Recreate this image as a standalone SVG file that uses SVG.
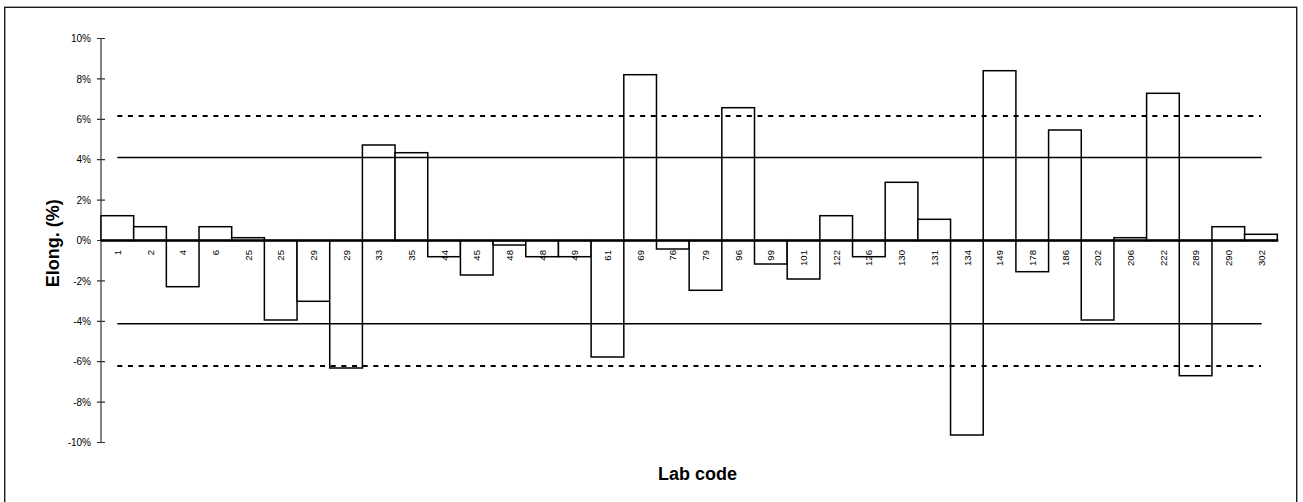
<svg xmlns="http://www.w3.org/2000/svg" width="1303" height="502" viewBox="0 0 1303 502">
<style>
.frame{fill:#fff;stroke:#1a1a1a;stroke-width:1.4}
.bar rect{fill:#fff;stroke:#000;stroke-width:1.5}
.bar text{font-family:"Liberation Sans",Arial,sans-serif;font-size:9.6px;fill:#000;text-anchor:end}
.tick{font-family:"Liberation Sans",Arial,sans-serif;font-size:10px;fill:#000;text-anchor:end}
.title{font-family:"Liberation Sans",Arial,sans-serif;font-size:18px;font-weight:bold;fill:#000;text-anchor:middle}
.axis{stroke:#333;stroke-width:1.2;fill:none}
.lim{stroke:#000;stroke-width:1.4;fill:none}
.dash{stroke:#000;stroke-width:2;fill:none;stroke-dasharray:5 5.67}
.zero{stroke:#000;stroke-width:2.6;fill:none}
</style>
<rect class="frame" x="4.7" y="7.3" width="1292" height="500"/>
<g id="y-axis">
<line class="axis" x1="101" y1="38.5" x2="101" y2="442.5"/>
<path class="axis" d="M97 38.5H105M97 78.9H105M97 119.3H105M97 159.7H105M97 200.1H105M97 240.5H105M97 280.9H105M97 321.3H105M97 361.7H105M97 402.1H105M97 442.5H105"/>
<text class="tick" x="91" y="42.2">10%</text>
<text class="tick" x="91" y="82.6">8%</text>
<text class="tick" x="91" y="123">6%</text>
<text class="tick" x="91" y="163.4">4%</text>
<text class="tick" x="91" y="203.8">2%</text>
<text class="tick" x="91" y="244.2">0%</text>
<text class="tick" x="91" y="284.6">-2%</text>
<text class="tick" x="91" y="325">-4%</text>
<text class="tick" x="91" y="365.4">-6%</text>
<text class="tick" x="91" y="405.8">-8%</text>
<text class="tick" x="91" y="446.2">-10%</text>
<text class="title" transform="translate(58.5,243.3) rotate(-90)">Elong. (%)</text>
</g>
<g id="bars">
<g class="bar" id="bar-1"><rect x="101.00" y="215.7" width="32.68" height="24.8"/><text transform="translate(120.9,250) rotate(-90)">1</text></g>
<g class="bar" id="bar-2"><rect x="133.68" y="226.7" width="32.68" height="13.8"/><text transform="translate(153.6,250) rotate(-90)">2</text></g>
<g class="bar" id="bar-4"><rect x="166.35" y="240.5" width="32.68" height="46.2"/><text transform="translate(186.3,250) rotate(-90)">4</text></g>
<g class="bar" id="bar-6"><rect x="199.03" y="226.7" width="32.68" height="13.8"/><text transform="translate(218.9,250) rotate(-90)">6</text></g>
<g class="bar" id="bar-25a"><rect x="231.70" y="237.7" width="32.68" height="2.8"/><text transform="translate(251.6,250) rotate(-90)">25</text></g>
<g class="bar" id="bar-25b"><rect x="264.38" y="240.5" width="32.68" height="79.5"/><text transform="translate(284.3,250) rotate(-90)">25</text></g>
<g class="bar" id="bar-29a"><rect x="297.05" y="240.5" width="32.68" height="60.8"/><text transform="translate(317.0,250) rotate(-90)">29</text></g>
<g class="bar" id="bar-29b"><rect x="329.73" y="240.5" width="32.68" height="127.5"/><text transform="translate(349.6,250) rotate(-90)">29</text></g>
<g class="bar" id="bar-33"><rect x="362.40" y="145.0" width="32.68" height="95.5"/><text transform="translate(382.3,250) rotate(-90)">33</text></g>
<g class="bar" id="bar-35"><rect x="395.08" y="152.7" width="32.68" height="87.8"/><text transform="translate(415.0,250) rotate(-90)">35</text></g>
<g class="bar" id="bar-44"><rect x="427.75" y="240.5" width="32.68" height="16.2"/><text transform="translate(447.7,250) rotate(-90)">44</text></g>
<g class="bar" id="bar-45"><rect x="460.43" y="240.5" width="32.68" height="34.5"/><text transform="translate(480.3,250) rotate(-90)">45</text></g>
<g class="bar" id="bar-48a"><rect x="493.10" y="240.5" width="32.68" height="4.5"/><text transform="translate(513.0,250) rotate(-90)">48</text></g>
<g class="bar" id="bar-48b"><rect x="525.78" y="240.5" width="32.68" height="16.2"/><text transform="translate(545.7,250) rotate(-90)">48</text></g>
<g class="bar" id="bar-49"><rect x="558.45" y="240.5" width="32.68" height="16.2"/><text transform="translate(578.4,250) rotate(-90)">49</text></g>
<g class="bar" id="bar-61"><rect x="591.13" y="240.5" width="32.68" height="116.5"/><text transform="translate(611.0,250) rotate(-90)">61</text></g>
<g class="bar" id="bar-69"><rect x="623.80" y="74.7" width="32.68" height="165.8"/><text transform="translate(643.7,250) rotate(-90)">69</text></g>
<g class="bar" id="bar-76"><rect x="656.48" y="240.5" width="32.68" height="8.5"/><text transform="translate(676.4,250) rotate(-90)">76</text></g>
<g class="bar" id="bar-79"><rect x="689.15" y="240.5" width="32.68" height="49.8"/><text transform="translate(709.1,250) rotate(-90)">79</text></g>
<g class="bar" id="bar-96"><rect x="721.83" y="107.7" width="32.68" height="132.8"/><text transform="translate(741.7,250) rotate(-90)">96</text></g>
<g class="bar" id="bar-99"><rect x="754.50" y="240.5" width="32.68" height="23.5"/><text transform="translate(774.4,250) rotate(-90)">99</text></g>
<g class="bar" id="bar-101"><rect x="787.18" y="240.5" width="32.68" height="38.5"/><text transform="translate(807.1,250) rotate(-90)">101</text></g>
<g class="bar" id="bar-122"><rect x="819.85" y="215.7" width="32.68" height="24.8"/><text transform="translate(839.8,250) rotate(-90)">122</text></g>
<g class="bar" id="bar-126"><rect x="852.53" y="240.5" width="32.68" height="16.2"/><text transform="translate(872.4,250) rotate(-90)">126</text></g>
<g class="bar" id="bar-130"><rect x="885.20" y="182.3" width="32.68" height="58.2"/><text transform="translate(905.1,250) rotate(-90)">130</text></g>
<g class="bar" id="bar-131"><rect x="917.88" y="219.3" width="32.68" height="21.2"/><text transform="translate(937.8,250) rotate(-90)">131</text></g>
<g class="bar" id="bar-134"><rect x="950.55" y="240.5" width="32.68" height="194.5"/><text transform="translate(970.5,250) rotate(-90)">134</text></g>
<g class="bar" id="bar-149"><rect x="983.23" y="70.7" width="32.68" height="169.8"/><text transform="translate(1003.1,250) rotate(-90)">149</text></g>
<g class="bar" id="bar-178"><rect x="1015.90" y="240.5" width="32.68" height="31.2"/><text transform="translate(1035.8,250) rotate(-90)">178</text></g>
<g class="bar" id="bar-186"><rect x="1048.58" y="130.0" width="32.68" height="110.5"/><text transform="translate(1068.5,250) rotate(-90)">186</text></g>
<g class="bar" id="bar-202"><rect x="1081.25" y="240.5" width="32.68" height="79.5"/><text transform="translate(1101.2,250) rotate(-90)">202</text></g>
<g class="bar" id="bar-206"><rect x="1113.93" y="237.7" width="32.68" height="2.8"/><text transform="translate(1133.8,250) rotate(-90)">206</text></g>
<g class="bar" id="bar-222"><rect x="1146.60" y="93.3" width="32.68" height="147.2"/><text transform="translate(1166.5,250) rotate(-90)">222</text></g>
<g class="bar" id="bar-289"><rect x="1179.28" y="240.5" width="32.68" height="135.2"/><text transform="translate(1199.2,250) rotate(-90)">289</text></g>
<g class="bar" id="bar-290"><rect x="1211.95" y="226.7" width="32.68" height="13.8"/><text transform="translate(1231.9,250) rotate(-90)">290</text></g>
<g class="bar" id="bar-302"><rect x="1244.63" y="234.3" width="32.68" height="6.2"/><text transform="translate(1264.5,250) rotate(-90)">302</text></g>
</g>
<g id="reference-lines">
<line class="lim" x1="117.3" y1="157.5" x2="1261.7" y2="157.5"/>
<line class="lim" x1="117.3" y1="323.8" x2="1261.7" y2="323.8"/>
<line class="dash" x1="117.3" y1="116" x2="1261" y2="116"/>
<line class="dash" x1="117.3" y1="366" x2="1261" y2="366"/>
<line class="zero" x1="101" y1="240.5" x2="1278.3" y2="240.5"/>
</g>
<text class="title" x="697.5" y="480">Lab code</text>
</svg>
